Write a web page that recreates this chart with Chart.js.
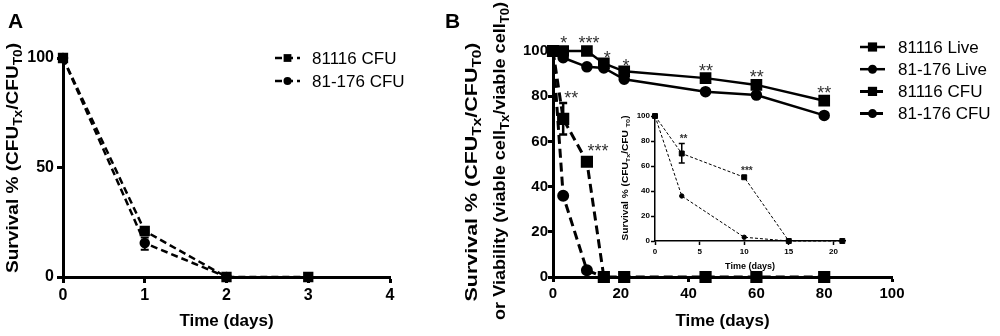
<!DOCTYPE html>
<html>
<head>
<meta charset="utf-8">
<script src="https://cdn.jsdelivr.net/npm/chart.js@4/dist/chart.umd.min.js"></script>
<style>
  html, body { margin: 0; padding: 0; background: #fff; }
  #wrap { position: relative; width: 1000px; height: 336px; overflow: hidden; }
  #wrap canvas { position: absolute; left: 0; top: 0; }
  .panel { position: absolute; font: bold 21px/21px "Liberation Sans", Arial, sans-serif; color: #000; }
</style>
</head>
<body>
<div id="wrap">
  <canvas id="chartA" width="1000" height="336"></canvas>
  <canvas id="chartB" width="1000" height="336"></canvas>
  <canvas id="chartInset" width="1000" height="336"></canvas>
  <div class="panel" style="left:8px;top:10px">A</div>
  <div class="panel" style="left:445px;top:10px">B</div>
</div>
<script>
// ---- panel A data
const daysA = [0, 1, 2, 3];
const cfu81116A = [100, 21, 0, 0];
const cfu81176A = [100, 15.5, 0];
const errLo81116A = [null, 19.5, null, null];
const errHi81116A = [null, 22.5, null, null];
const errLo81176A = [null, 12.5, null];
const errHi81176A = [null, 18, null];
const ticksA_y = [0, 50, 100];

// ---- panel B data
const daysB = [0, 3, 10, 15, 21, 45, 60, 80];
const live81116 = [100, 100, 100, 94.5, 91, 88, 85, 78];
const live81176 = [100, 97, 93, 92.5, 87.5, 82, 80.5, 71.5];
const cfu81116B = [100, 70, 51, 0, 0, 0, 0, 0];
const cfu81176B = [100, 36, 3, 0];
const errLo81116B = [null, 63, null, null, null, null, null, null];
const errHi81116B = [null, 77, null, null, null, null, null, null];
const starsB = ['*', '***', '*', '*', '**', '**', '**', '**', '***'];
const starsBx = [3.2, 10.6, 16, 21.5, 45.1, 60.1, 80, 5.4, 13.3];
const starsBy = [105.3, 105.3, 98.8, 95.4, 92.9, 90.2, 83.3, 81.2, 57.5];

// ---- inset data
const daysInset = [0, 3, 10, 15, 21];
const inset81116 = [100, 70, 51, 0, 0];
const inset81176 = [100, 36, 3, 0];
const errLoInset = [null, 62.5, null, null, null];
const errHiInset = [null, 78, null, null, null];
const starsInset = ['**', '***'];
const starsInsetX = [3.2, 10.3];
const starsInsetY = [83.4, 58];

const FONT = '"Liberation Sans", Arial, sans-serif';
const pts = (xs, ys) => ys.map((v, i) => ({ x: xs[i], y: v }));

function drawMarker(ctx, style, r, x, y) {
  ctx.fillStyle = '#000';
  ctx.beginPath();
  if (style === 'rect') {
    const s = r * Math.SQRT1_2;
    ctx.rect(x - s, y - s, 2 * s, 2 * s);
  } else {
    ctx.arc(x, y, r, 0, Math.PI * 2);
  }
  ctx.fill();
}

// rotated axis title with subscripts, stretched to a target length
function drawRich(ctx, parts, cx, cy, size, target) {
  const main = 'bold ' + size + 'px ' + FONT;
  const sub = 'bold ' + (size * 0.72).toFixed(1) + 'px ' + FONT;
  let total = 0;
  parts.forEach(p => { ctx.font = p[1] ? sub : main; total += ctx.measureText(p[0]).width; });
  ctx.save();
  ctx.translate(cx, cy);
  ctx.rotate(-Math.PI / 2);
  ctx.scale(target / total, 1);
  ctx.fillStyle = '#000';
  ctx.textBaseline = 'middle';
  let x = -total / 2;
  parts.forEach(p => {
    ctx.font = p[1] ? sub : main;
    ctx.fillText(p[0], x, p[1] ? size * 0.32 : 0);
    x += ctx.measureText(p[0]).width;
  });
  ctx.restore();
}

const errorBars = {
  id: 'errorBars',
  afterDatasetsDraw(chart, args, opts) {
    const ctx = chart.ctx, xs = chart.scales.x, ys = chart.scales.y;
    chart.data.datasets.forEach(ds => {
      if (!ds.errLow) return;
      ds.data.forEach((p, j) => {
        const lo = ds.errLow[j], hi = ds.errHigh[j];
        if (lo == null) return;
        const x = xs.getPixelForValue(p.x);
        const y1 = ys.getPixelForValue(lo), y2 = ys.getPixelForValue(hi);
        ctx.save();
        ctx.strokeStyle = '#000';
        ctx.lineWidth = opts.width;
        ctx.beginPath();
        ctx.moveTo(x, y1); ctx.lineTo(x, y2);
        ctx.moveTo(x - opts.cap, y1); ctx.lineTo(x + opts.cap, y1);
        ctx.moveTo(x - opts.cap, y2); ctx.lineTo(x + opts.cap, y2);
        ctx.stroke();
        ctx.restore();
      });
    });
  }
};

const sideLegend = {
  id: 'sideLegend',
  afterDraw(chart, args, opts) {
    if (!opts.show) return;
    const ctx = chart.ctx;
    chart.data.datasets.forEach((ds, i) => {
      const y = opts.y + i * opts.gap;
      ctx.save();
      ctx.strokeStyle = '#000';
      ctx.lineWidth = ds.borderWidth;
      ctx.setLineDash(ds.borderDash || []);
      ctx.beginPath();
      ctx.moveTo(opts.x, y);
      ctx.lineTo(opts.x + opts.len, y);
      ctx.stroke();
      ctx.setLineDash([]);
      drawMarker(ctx, ds.pointStyle, ds.pointRadius, opts.x + opts.len / 2, y);
      ctx.fillStyle = '#000';
      ctx.font = opts.font;
      ctx.textBaseline = 'middle';
      ctx.fillText(ds.label, opts.x + opts.len + opts.pad, y + 1);
      ctx.restore();
    });
  }
};

const stars = {
  id: 'stars',
  afterDraw(chart, args, opts) {
    if (!opts.labels) return;
    const ctx = chart.ctx, xs = chart.scales.x, ys = chart.scales.y;
    ctx.save();
    ctx.fillStyle = opts.color;
    ctx.font = opts.font;
    ctx.textAlign = 'center';
    ctx.textBaseline = 'alphabetic';
    opts.labels.forEach((t, i) => {
      ctx.fillText(t, xs.getPixelForValue(opts.xs[i]), ys.getPixelForValue(opts.ys[i]) + opts.size * 0.57);
    });
    ctx.restore();
  }
};

const yTitle = {
  id: 'yTitle',
  afterDraw(chart, args, opts) {
    if (!opts.lines) return;
    opts.lines.forEach(l => drawRich(chart.ctx, l.parts, l.cx, l.cy, l.size, l.len));
  }
};

function axes(o) {
  return {
    x: {
      type: 'linear', min: o.xmin, max: o.xmax,
      afterFit: s => { s.height = o.xh; },
      afterBuildTicks: s => { s.ticks = s.ticks.filter(t => t.value % o.xstep === 0); },
      ticks: { stepSize: o.xstep, includeBounds: false, color: '#000', padding: o.xpad,
               font: { family: FONT, size: o.tick, weight: 'bold' } },
      grid: { drawOnChartArea: false, drawTicks: true, tickLength: o.tl, tickWidth: o.bw, tickColor: '#000' },
      border: { display: true, color: '#000', width: o.bw },
      title: { display: true, text: 'Time (days)', color: '#000', padding: { top: 0, bottom: o.tpad },
               font: { family: FONT, size: o.title, weight: 'bold' } }
    },
    y: {
      type: 'linear', min: 0, max: 100,
      afterFit: s => { s.width = o.yw; },
      afterBuildTicks: s => { s.ticks = s.ticks.filter(t => t.value % o.ystep === 0); },
      ticks: { stepSize: o.ystep, color: '#000', padding: o.ypad,
               font: { family: FONT, size: o.tick, weight: 'bold' } },
      grid: { drawOnChartArea: false, drawTicks: true, tickLength: o.tl, tickWidth: o.bw, tickColor: '#000' },
      border: { display: true, color: '#000', width: o.bw }
    }
  };
}

const subTitle = [['Survival % (CFU', false], ['Tx', true], ['/CFU', false], ['T0', true], [')', false]];

// ---- panel A
new Chart(document.getElementById('chartA'), {
  type: 'line',
  data: {
    datasets: [
      { label: '81116 CFU', data: pts(daysA, cfu81116A), errLow: errLo81116A, errHigh: errHi81116A,
        borderColor: '#000', backgroundColor: '#000', borderWidth: 2.5, borderDash: [7, 4],
        pointStyle: 'rect', pointRadius: 5.5, clip: false },
      { label: '81-176 CFU', data: pts(daysA, cfu81176A), errLow: errLo81176A, errHigh: errHi81176A,
        borderColor: '#000', backgroundColor: '#000', borderWidth: 2.5, borderDash: [7, 4],
        pointStyle: 'circle', pointRadius: 4, clip: false }
    ]
  },
  options: {
    responsive: false, animation: false, events: [],
    layout: { padding: { left: 0, top: 58, right: 610, bottom: 0 } },
    scales: axes({ xmin: 0, xmax: 4, xstep: 1, ystep: 50, xh: 59, yw: 63, bw: 3, tl: 6,
                   tick: 16, title: 17, xpad: 3, ypad: 3, tpad: 4 }),
    plugins: {
      legend: { display: false }, tooltip: { enabled: false },
      errorBars: { width: 2, cap: 4 },
      sideLegend: { show: true, x: 275, y: 58, gap: 23, len: 25, pad: 12, font: '17px ' + FONT },
      yTitle: { lines: [{ parts: subTitle, cx: 13, cy: 158, size: 17, len: 230 }] }
    }
  },
  plugins: [errorBars, sideLegend, yTitle]
});

// ---- panel B main
new Chart(document.getElementById('chartB'), {
  type: 'line',
  data: {
    datasets: [
      { label: '81116 Live', data: pts(daysB, live81116), borderColor: '#000', backgroundColor: '#000',
        borderWidth: 2.5, pointStyle: 'rect', pointRadius: 6.5, clip: false },
      { label: '81-176 Live', data: pts(daysB, live81176), borderColor: '#000', backgroundColor: '#000',
        borderWidth: 2.5, pointStyle: 'circle', pointRadius: 4.5, clip: false },
      { label: '81116 CFU', data: pts(daysB, cfu81116B), errLow: errLo81116B, errHigh: errHi81116B,
        borderColor: '#000', backgroundColor: '#000', borderWidth: 3, borderDash: [9, 5],
        pointStyle: 'rect', pointRadius: 6.5, clip: false },
      { label: '81-176 CFU', data: pts(daysB, cfu81176B), borderColor: '#000', backgroundColor: '#000',
        borderWidth: 3, borderDash: [9, 5], pointStyle: 'circle', pointRadius: 4.5, clip: false }
    ]
  },
  options: {
    responsive: false, animation: false, events: [],
    layout: { padding: { left: 493, top: 51, right: 108, bottom: 0 } },
    scales: axes({ xmin: 0, xmax: 100, xstep: 20, ystep: 20, xh: 59, yw: 60, bw: 3, tl: 5,
                   tick: 15, title: 17, xpad: 3, ypad: 0, tpad: 4 }),
    plugins: {
      legend: { display: false }, tooltip: { enabled: false },
      errorBars: { width: 2.5, cap: 4 },
      sideLegend: { show: true, x: 860, y: 47, gap: 22.2, len: 25, pad: 13, font: '17px ' + FONT },
      stars: { labels: starsB, xs: starsBx, ys: starsBy, color: '#333', size: 18, font: '18px ' + FONT },
      yTitle: { lines: [
        { parts: subTitle, cx: 472, cy: 172, size: 17, len: 259 },
        { parts: [['or Viability (viable cell', false], ['Tx', true], ['/viable cell', false], ['T0', true], [')', false]],
          cx: 500, cy: 161, size: 17, len: 318 }
      ] }
    }
  },
  plugins: [errorBars, sideLegend, stars, yTitle]
});

// ---- panel B inset
new Chart(document.getElementById('chartInset'), {
  type: 'line',
  data: {
    datasets: [
      { label: '81116 CFU', data: pts(daysInset, inset81116), errLow: errLoInset, errHigh: errHiInset,
        borderColor: '#000', backgroundColor: '#000', borderWidth: 1, borderDash: [3, 2],
        pointStyle: 'rect', pointRadius: 3.5, clip: false },
      { label: '81-176 CFU', data: pts(daysInset, inset81176), borderColor: '#000', backgroundColor: '#000',
        borderWidth: 1, borderDash: [3, 2], pointStyle: 'circle', pointRadius: 2.2, clip: false }
    ]
  },
  options: {
    responsive: false, animation: false, events: [],
    layout: { padding: { left: 625, top: 116, right: 155, bottom: 60 } },
    scales: axes({ xmin: 0, xmax: 21.3, xstep: 5, ystep: 20, xh: 35, yw: 30, bw: 1.5, tl: 4,
                   tick: 8, title: 9, xpad: 2, ypad: 1, tpad: 4 }),
    plugins: {
      legend: { display: false }, tooltip: { enabled: false },
      errorBars: { width: 1.5, cap: 3 },
      sideLegend: { show: false },
      stars: { labels: starsInset, xs: starsInsetX, ys: starsInsetY, color: '#333', size: 10, font: 'bold 10px ' + FONT },
      yTitle: { lines: [{ parts: [['Survival % (CFU', false], ['Tx', true], ['/CFU ', false], ['T0', true], [')', false]],
                          cx: 626, cy: 178, size: 8.5, len: 125 }] }
    }
  },
  plugins: [errorBars, sideLegend, stars, yTitle]
});
</script>
</body>
</html>
